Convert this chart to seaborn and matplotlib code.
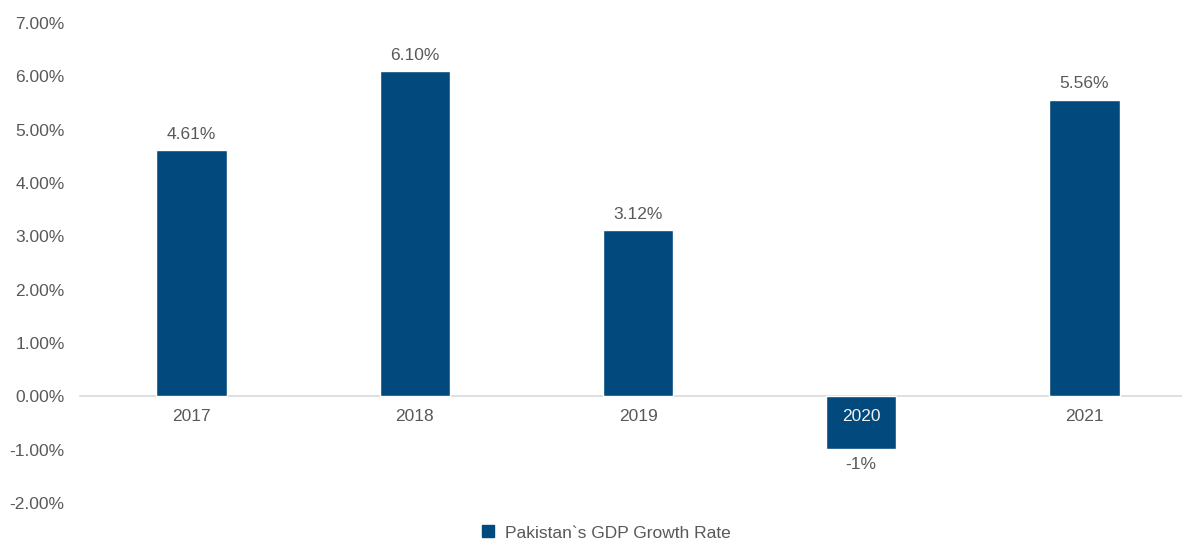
import matplotlib
matplotlib.use("Agg")
import matplotlib.pyplot as plt
import seaborn as sns
import pandas as pd
from matplotlib.lines import Line2D

years = ["2017", "2018", "2019", "2020", "2021"]
growth = [4.61, 6.10, 3.12, -0.98, 5.56]
value_labels = ["4.61%", "6.10%", "3.12%", "-1%", "5.56%"]
y_ticks = [-2, -1, 0, 1, 2, 3, 4, 5, 6, 7]
series_name = "Pakistan`s GDP Growth Rate"

BAR_COLOR = "#024A7E"
TEXT_COLOR = "#595959"

sns.set_theme(style="white")
plt.rcParams["font.family"] = ["Liberation Sans", "DejaVu Sans"]

df = pd.DataFrame({"year": years, "growth": growth})

fig = plt.figure(figsize=(11.82, 5.4), dpi=100)
ax = fig.add_axes([80 / 1182, 1 - 503 / 540, (1196 - 80) / 1182, (503 - 23) / 540])

sns.barplot(data=df, x="year", y="growth", color=BAR_COLOR, width=0.315,
            saturation=1, ax=ax, zorder=2)

ax.set_ylim(-2, 7)
ax.set_xlim(-0.5, 4.5)
ax.set_yticks(y_ticks)
ax.set_yticklabels([f"{t:.2f}%" for t in y_ticks], fontsize=12.5, color=TEXT_COLOR)
ax.set_xlabel("")
ax.set_ylabel("")

for side in ["left", "right", "top"]:
    ax.spines[side].set_visible(False)
ax.spines["bottom"].set_position(("data", 0))
ax.spines["bottom"].set_color("#d9d9d9")
ax.spines["bottom"].set_linewidth(1.2)
ax.spines["bottom"].set_zorder(1)
ax.xaxis.set_zorder(5)
ax.tick_params(axis="both", length=0)
ax.tick_params(axis="y", pad=11)
ax.tick_params(axis="x", pad=9, labelsize=12.5, labelcolor=TEXT_COLOR)

for lbl in ax.get_xticklabels():
    if lbl.get_text() == "2020":
        lbl.set_color("#f2f2f2")

# positive labels sit above, the negative one a little lower below its bar
ax.bar_label(ax.containers[0], labels=value_labels, padding=6,
             fontsize=12.5, color=TEXT_COLOR)

handle = Line2D([], [], marker="s", linestyle="", color=BAR_COLOR, markersize=8)
fig.legend(handles=[handle], labels=[series_name], loc="center",
           bbox_to_anchor=(0.508, 0.013), frameon=False, fontsize=12.5,
           handletextpad=0.0, labelcolor=TEXT_COLOR)

fig.savefig("out.png", dpi=100)
